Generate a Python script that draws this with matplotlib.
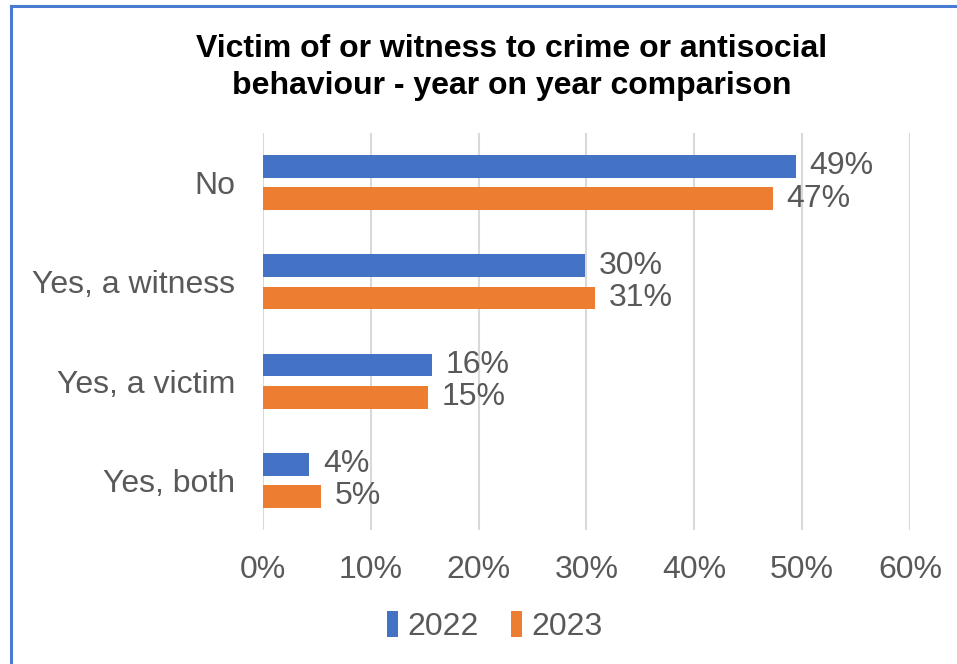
import matplotlib.pyplot as plt
import numpy as np
from matplotlib.lines import Line2D
from matplotlib.ticker import PercentFormatter

plt.rcParams['font.family'] = ['Liberation Sans', 'DejaVu Sans']

categories = ['No', 'Yes, a witness', 'Yes, a victim', 'Yes, both']
years = ['2022', '2023']
vals_2022 = [49.4, 29.9, 15.7, 4.3]
vals_2023 = [47.3, 30.8, 15.3, 5.4]
xticks = [0, 10, 20, 30, 40, 50, 60]

colors = ['#4472C4', '#ED7D31']
text_grey = '#595959'

fig = plt.figure(figsize=(9.57, 6.64), dpi=100)
ax = fig.add_axes([0.2748, 0.2018, 0.676, 0.598])

ypos = np.arange(len(categories))[::-1]
off = 0.162
h = 0.23
for vals, col, shift, yr in zip([vals_2022, vals_2023], colors, [off, -off], years):
    bars = ax.barh(ypos + shift, vals, height=h, color=col, label=yr, zorder=3)
    for b, v in zip(bars, vals):
        ax.text(b.get_width() + 1.25, b.get_y() + b.get_height() / 2, f'{round(v):.0f}%',
                va='center', ha='left', fontsize=23, color=text_grey)

ax.set_xlim(0, 60)
ax.set_ylim(-0.5, 3.5)
ax.set_xticks(xticks)
ax.xaxis.set_major_formatter(PercentFormatter(decimals=0))
ax.set_yticks(ypos)
ax.set_yticklabels(categories)
ax.tick_params(axis='both', length=0, labelsize=23, labelcolor=text_grey)
ax.tick_params(axis='x', pad=18)
ax.tick_params(axis='y', pad=20)
ax.grid(axis='x', color='#D9D9D9', linewidth=1.5, zorder=0)
for s in ax.spines.values():
    s.set_visible(False)

fig.text(0.535, 0.898, 'Victim of or witness to crime or antisocial\nbehaviour - year on year comparison',
         ha='center', va='center', fontsize=23, fontweight='bold', color='black', linespacing=1.32)

ax.legend(loc='center', bbox_to_anchor=(0.517, 0.057), bbox_transform=fig.transFigure,
          ncol=2, frameon=False, fontsize=23, handlelength=0.35, handleheight=0.9,
          handletextpad=0.3, columnspacing=1.0, labelcolor=text_grey)

# frame lines along the top and left edge
fig.add_artist(Line2D([11 / 957, 1], [1 - 5.5 / 664] * 2, color='#4a7bd3', linewidth=2.2))
fig.add_artist(Line2D([11 / 957] * 2, [0, 1 - 5.5 / 664], color='#4a7bd3', linewidth=2.2))

fig.savefig('out.png', dpi=100)
